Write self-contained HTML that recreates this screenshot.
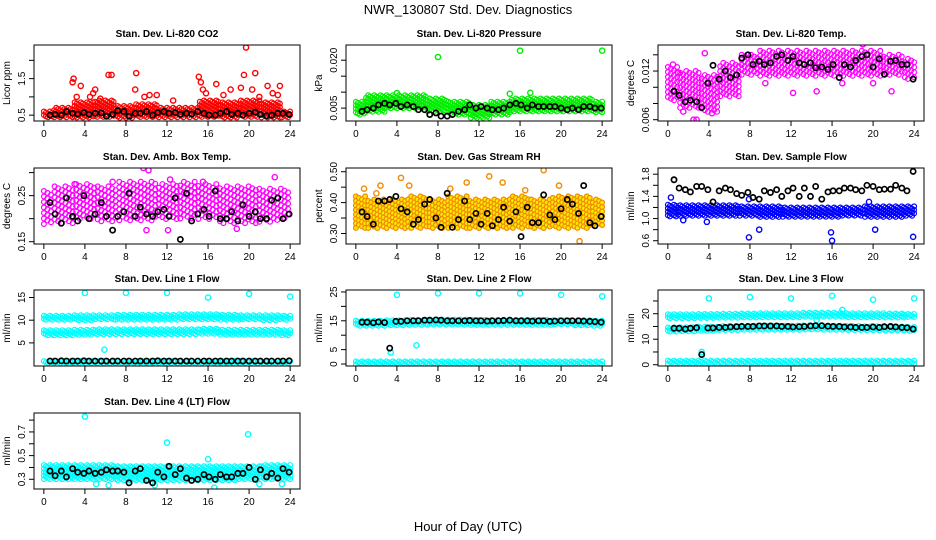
<!DOCTYPE html>
<html><head><meta charset="utf-8">
<style>
html,body{margin:0;padding:0;background:#fff;}
svg{display:block;font-family:"Liberation Sans",Arial,sans-serif;}
</style></head>
<body>
<svg id="chart" width="936" height="540" viewBox="0 0 936 540" xmlns="http://www.w3.org/2000/svg">
<rect width="936" height="540" fill="#fff"/>
<text x="468" y="14" text-anchor="middle" font-size="13">NWR_130807  Std. Dev. Diagnostics</text>
<text x="468" y="531" text-anchor="middle" font-size="13">Hour of Day (UTC)</text>
<g id="panels"></g>
</svg>
<script>
// shared x positions (hour of day) of black hourly-mean points
const hx = [0.6,1.1,1.7,2.2,2.8,3.3,3.9,4.4,5,5.6,6.1,6.7,7.2,7.8,8.3,8.9,9.4,10,10.6,11.1,11.7,12.2,12.8,13.3,13.9,14.4,15,15.6,16.1,16.7,17.2,17.8,18.3,18.9,19.4,20,20.6,21.1,21.7,22.2,22.8,23.3,23.9];
// band hours (each band value covers +/-1 hour)
const bandHours = [0,2,4,6,8,10,12,14,16,18,20,22,24];
const xTicks = [0,4,8,12,16,20,24];

// Panel 1 CO2
const co2Lo = [0.45,0.45,0.45,0.45,0.45,0.45,0.45,0.45,0.45,0.45,0.45,0.45,0.45];
const co2Hi = [0.6,0.7,0.85,0.9,0.75,0.8,0.7,0.7,0.9,0.85,0.9,0.85,0.6];
const co2OutX = [2.9,2.8,3.6,6.3,6.6,9,8.9,15.1,15.3,16.8,19.7,19.5,20.6,21.8,23,10.3,11,5,15.5,4.5,12.6,3.2,4.8,5.5,9.8,15.8,17.5,18.2,19.2,20.3,21,22.3,22.8];
const co2OutY = [1.5,1.4,1.3,1.6,1.6,1.65,1.2,1.55,1.4,1.35,2.35,1.6,1.65,1.3,1.3,1.05,1.05,1.2,1.2,1.0,0.9,1.0,1.1,0.95,1.0,1.1,1.05,1.2,1.25,1.2,1.0,1.1,1.05];
const co2Black = [0.5,0.52,0.5,0.6,0.55,0.53,0.57,0.52,0.55,0.56,0.47,0.52,0.62,0.6,0.47,0.55,0.55,0.6,0.5,0.57,0.6,0.55,0.57,0.52,0.55,0.53,0.6,0.55,0.5,0.5,0.55,0.6,0.52,0.55,0.5,0.55,0.58,0.52,0.48,0.5,0.55,0.55,0.52];
// Panel 2 pressure
const prLo = [0.003,0.004,0.005,0.005,0.004,0.003,0.002,0.003,0.004,0.004,0.004,0.004,0.004];
const prHi = [0.007,0.009,0.009,0.009,0.008,0.007,0.006,0.007,0.008,0.008,0.008,0.008,0.007];
const prOutX = [8,16,24,15,17,4];
const prOutY = [0.021,0.023,0.023,0.0095,0.0098,0.0097];
const prBlack = [0.004,0.0045,0.005,0.006,0.0065,0.006,0.0065,0.0055,0.006,0.0055,0.0045,0.0045,0.003,0.0035,0.0025,0.0025,0.003,0.004,0.0045,0.006,0.005,0.0055,0.005,0.0045,0.0045,0.005,0.006,0.0065,0.006,0.005,0.006,0.0055,0.0055,0.0055,0.0055,0.005,0.0045,0.005,0.0045,0.0055,0.0055,0.005,0.005];
// Panel 3 temp
const tpLo = [0.0085,0.0075,0.007,0.009,0.0115,0.0115,0.0115,0.0115,0.0115,0.0115,0.0115,0.0115,0.011];
const tpHi = [0.0125,0.012,0.0115,0.013,0.014,0.0145,0.0145,0.0145,0.0145,0.0145,0.0145,0.014,0.0135];
const tpOutX = [2.5,2.8,1.5,4.3,9.5,12.2,14.5,17,20,21.8,19,1,3.6,0.5];
const tpOutY = [0.006,0.006,0.007,0.0068,0.0105,0.0093,0.0095,0.0105,0.0105,0.0095,0.0153,0.0118,0.0142,0.0128];
const tpBlack = [0.0095,0.009,0.0082,0.0084,0.0082,0.0075,0.0105,0.0127,0.011,0.012,0.0112,0.0115,0.0136,0.014,0.0128,0.0132,0.0128,0.013,0.0138,0.014,0.0133,0.0138,0.013,0.0128,0.013,0.0124,0.0125,0.0122,0.0128,0.0112,0.0128,0.0125,0.0133,0.0138,0.014,0.0125,0.0135,0.0116,0.0132,0.0133,0.0128,0.0128,0.011];
// Panel 4 amb box temp
const abLo = [0.19,0.19,0.2,0.195,0.195,0.195,0.2,0.2,0.2,0.19,0.19,0.195,0.2];
const abHi = [0.26,0.27,0.275,0.27,0.28,0.28,0.275,0.28,0.275,0.27,0.27,0.265,0.265];
const abOutX = [9.7,10.2,12.3,6.7,10,12.1,22.5,3,15.5,18.8];
const abOutY = [0.31,0.305,0.285,0.28,0.175,0.175,0.29,0.275,0.28,0.178];
const abBlack = [0.235,0.21,0.19,0.245,0.205,0.195,0.25,0.2,0.21,0.235,0.205,0.175,0.205,0.215,0.255,0.205,0.225,0.21,0.205,0.215,0.22,0.205,0.245,0.155,0.255,0.195,0.21,0.22,0.205,0.26,0.2,0.2,0.215,0.195,0.23,0.205,0.215,0.2,0.2,0.24,0.245,0.2,0.21];
// Panel 5 RH
const rhLo = [0.32,0.32,0.32,0.32,0.32,0.32,0.32,0.32,0.32,0.32,0.32,0.32,0.33];
const rhHi = [0.42,0.41,0.41,0.42,0.41,0.42,0.41,0.41,0.42,0.41,0.42,0.42,0.41];
const rhOutX = [0.8,2.4,4.4,5.2,9.2,10.8,13,14.3,18.3,21.8,19.8,2,16.5];
const rhOutY = [0.445,0.455,0.48,0.455,0.445,0.465,0.485,0.465,0.505,0.275,0.455,0.43,0.44];
const rhBlack = [0.37,0.355,0.33,0.405,0.405,0.41,0.42,0.38,0.37,0.33,0.345,0.395,0.41,0.35,0.32,0.43,0.32,0.345,0.405,0.345,0.365,0.33,0.365,0.325,0.345,0.385,0.34,0.37,0.29,0.385,0.335,0.335,0.425,0.36,0.345,0.38,0.41,0.395,0.365,0.455,0.335,0.325,0.355];
// Panel 6 sample flow
const sfLo = [1.05,1.05,1.05,1.05,1.05,1.04,1.04,1.04,1.04,1.05,1.04,1.04,1.05];
const sfHi = [1.25,1.24,1.24,1.24,1.22,1.22,1.2,1.2,1.2,1.2,1.22,1.22,1.22];
const sfOutX = [7.9,8.9,16,15.9,20.2,23.9,1.5,3.8,0.3,7.9,19.6];
const sfOutY = [0.66,0.8,0.6,0.75,0.8,0.67,0.97,0.94,1.38,1.35,1.3];
const sfBlack = [1.7,1.55,1.52,1.48,1.58,1.58,1.52,1.3,1.5,1.55,1.52,1.45,1.42,1.47,1.38,1.35,1.5,1.47,1.52,1.4,1.5,1.55,1.4,1.55,1.4,1.58,1.35,1.48,1.5,1.5,1.55,1.55,1.52,1.5,1.6,1.58,1.52,1.53,1.53,1.6,1.55,1.5,1.85];
// Panel 7 line 1 flow
const l1aLo = [10.2,10.2,10.2,10.3,10.3,10.3,10.3,10.3,10.3,10.3,10.3,10.2,10.2];
const l1aHi = [11.0,11.0,11.1,11.1,11.2,11.2,11.2,11.3,11.3,11.2,11.1,11.1,11.0];
const l1bLo = [6.9,6.9,7.0,7.1,7.1,7.1,7.1,7.1,7.2,7.0,7.0,7.0,6.9];
const l1bHi = [7.8,7.8,7.9,8.0,8.0,8.0,8.0,8.0,8.1,7.9,7.9,7.9,7.8];
const l1cLo = [0.6,0.6,0.6,0.6,0.6,0.6,0.6,0.6,0.6,0.6,0.6,0.6,0.6];
const l1cHi = [1.0,1.0,1.0,1.0,1.0,1.0,1.0,1.0,1.0,1.0,1.0,1.0,1.0];
const l1OutX = [4,8,12,16,20,24,5.9];
const l1OutY = [16,16,16,15,15.8,15.2,3.5];
const l1Black = [1,1,1.05,1,1,1,1.05,1,1,1,1,1,1,1,1,1,1,1,1,1.05,1,1,1,1,1,1,1,1,1,1,1,1,1,1,1,1,1,1,1,1,1,1,1.05];
// Panel 8 line 2 flow
const l2aLo = [13.3,13.6,13.8,13.8,13.9,13.9,13.9,13.9,13.9,13.9,13.9,13.8,13.6];
const l2aHi = [15.0,15.0,15.2,15.3,15.4,15.4,15.3,15.3,15.3,15.3,15.2,15.2,15.0];
const l2cLo = [0,0,0,0,0,0,0,0,0,0,0,0,0];
const l2cHi = [0.9,0.9,0.9,0.9,0.9,0.9,0.9,0.9,0.9,0.9,0.9,0.9,0.9];
const l2OutX = [4,8,12,16,20,24,5.9,3.4];
const l2OutY = [24,24.5,24.5,24.5,24,23.5,6.5,4];
const l2Black = [14.5,14.5,14.3,14.6,14.4,5.5,14.8,14.8,15,15,15,15.2,15.2,15.3,15.2,15,15,15,15,15.1,15,15,14.9,15,15,15.1,15.2,15,15,15,14.9,15,15,14.8,14.9,15,15,15,15,14.9,14.8,14.7,14.5];
// Panel 9 line 3 flow
const l3aLo = [18.6,18.6,18.7,18.8,18.8,18.9,18.9,18.9,18.9,18.9,18.9,18.9,18.8];
const l3aHi = [19.8,19.8,19.9,20.0,20.1,20.2,20.2,20.4,20.4,20.2,20.2,20.1,19.9];
const l3bLo = [13.3,13.4,13.6,13.8,13.9,13.9,14.0,14.0,14.0,13.9,13.8,13.7,13.4];
const l3bHi = [14.6,14.7,14.9,15.2,15.3,15.3,15.3,15.4,15.3,15.2,15.1,15.0,14.8];
const l3cLo = [0.6,0.6,0.6,0.6,0.6,0.6,0.6,0.6,0.6,0.6,0.6,0.6,0.6];
const l3cHi = [1.6,1.6,1.6,1.6,1.6,1.6,1.6,1.6,1.6,1.6,1.6,1.6,1.6];
const l3OutX = [4,8,12,16,20,24,3.3,17,14.5];
const l3OutY = [26,26.5,26,27,25.5,26,5,21.5,17.5];
const l3Black = [14.3,14.3,14,14.3,14.5,4,14.4,14.4,14.6,14.6,14.8,14.9,15,15,15,15.2,15.2,15.2,15.2,15,15,14.8,14.9,15,15.2,15.3,15.3,15.1,15,15,14.8,14.8,14.6,14.6,14.6,14.8,14.6,14.9,15,14.8,14.6,14.5,14];
// Panel 10 line 4 flow
const l4Lo = [0.31,0.31,0.31,0.31,0.3,0.3,0.3,0.3,0.3,0.3,0.31,0.31,0.31];
const l4Hi = [0.42,0.42,0.42,0.42,0.41,0.41,0.41,0.41,0.41,0.41,0.41,0.42,0.42];
const l4OutX = [4,12,19.9,16,16.6,6.3,10.8,21,23.2,5.1];
const l4OutY = [0.83,0.61,0.68,0.47,0.23,0.25,0.25,0.26,0.26,0.26];
const l4Black = [0.37,0.33,0.37,0.32,0.39,0.36,0.35,0.37,0.35,0.36,0.38,0.37,0.37,0.36,0.27,0.37,0.39,0.29,0.27,0.36,0.32,0.41,0.34,0.39,0.31,0.29,0.30,0.34,0.32,0.30,0.34,0.32,0.32,0.35,0.35,0.40,0.30,0.38,0.32,0.35,0.31,0.39,0.36];

const panels = [
 {name:'co2',title:'Stan. Dev. Li-820 CO2',ylab:'Licor ppm',col:0,row:0,yb:0.34,yt:2.42,ticks:[0.5,1,1.5,2],labels:[0.5,1.5],fmt:1,color:'#ff0000',bands:[[co2Lo,co2Hi]],ox:co2OutX,oy:co2OutY,black:co2Black,dx:0.2,dy:3.5},
 {name:'pressure',title:'Stan. Dev. Li-820 Pressure',ylab:'kPa',col:1,row:0,yb:0.00097,yt:0.02476,ticks:[0.005,0.01,0.015,0.02],labels:[0.005,0.02],fmt:3,color:'#00ee00',bands:[[prLo,prHi]],ox:prOutX,oy:prOutY,black:prBlack,dx:0.2,dy:3.5},
 {name:'temp',title:'Stan. Dev. Li-820 Temp.',ylab:'degrees C',col:2,row:0,yb:0.00584,yt:0.01521,ticks:[0.006,0.008,0.01,0.012,0.014],labels:[0.006,0.012],fmt:3,color:'#ff00ff',bands:[[tpLo,tpHi]],ox:tpOutX,oy:tpOutY,black:tpBlack,dx:0.3,dy:5},
 {name:'amb-box-temp',title:'Stan. Dev. Amb. Box Temp.',ylab:'degrees C',col:0,row:1,yb:0.145,yt:0.31,ticks:[0.15,0.2,0.25,0.3],labels:[0.15,0.25],fmt:2,color:'#ff00ff',bands:[[abLo,abHi]],ox:abOutX,oy:abOutY,black:abBlack,dx:0.35,dy:5.5},
 {name:'gas-stream-rh',title:'Stan. Dev. Gas Stream RH',ylab:'percent',col:1,row:1,yb:0.266,yt:0.512,ticks:[0.3,0.35,0.4,0.45,0.5],labels:[0.3,0.4,0.5],fmt:2,color:'#f08a00',bands:[[rhLo,rhHi]],ox:rhOutX,oy:rhOutY,black:rhBlack,fill:'#ffe800',dx:0.3,dy:4.5},
 {name:'sample-flow',title:'Stan. Dev. Sample Flow',ylab:'ml/min',col:2,row:1,yb:0.541,yt:1.912,ticks:[0.6,0.8,1.0,1.2,1.4,1.6,1.8],labels:[0.6,1.0,1.4,1.8],fmt:1,color:'#0000ff',bands:[[sfLo,sfHi]],ox:sfOutX,oy:sfOutY,black:sfBlack,dx:0.2,dy:3.5},
 {name:'line1-flow',title:'Stan. Dev. Line 1 Flow',ylab:'ml/min',col:0,row:2,yb:-0.09,yt:16.65,ticks:[5,10,15],labels:[5,10,15],fmt:0,color:'#00ffff',bands:[[l1aLo,l1aHi],[l1bLo,l1bHi],[l1cLo,l1cHi]],ox:l1OutX,oy:l1OutY,black:l1Black,dx:0.2,dy:3},
 {name:'line2-flow',title:'Stan. Dev. Line 2 Flow',ylab:'ml/min',col:1,row:2,yb:-0.68,yt:25.68,ticks:[0,5,10,15,20,25],labels:[0,5,15,25],fmt:0,color:'#00ffff',bands:[[l2aLo,l2aHi],[l2cLo,l2cHi]],ox:l2OutX,oy:l2OutY,black:l2Black,dx:0.2,dy:3},
 {name:'line3-flow',title:'Stan. Dev. Line 3 Flow',ylab:'ml/min',col:2,row:2,yb:-0.5,yt:29.3,ticks:[0,5,10,15,20,25],labels:[0,10,20],fmt:0,color:'#00ffff',bands:[[l3aLo,l3aHi],[l3bLo,l3bHi],[l3cLo,l3cHi]],ox:l3OutX,oy:l3OutY,black:l3Black,dx:0.2,dy:3},
 {name:'line4-flow',title:'Stan. Dev. Line 4 (LT) Flow',ylab:'ml/min',col:0,row:3,yb:0.218,yt:0.86,ticks:[0.3,0.4,0.5,0.6,0.7,0.8],labels:[0.3,0.5,0.7],fmt:1,color:'#00ffff',bands:[[l4Lo,l4Hi]],ox:l4OutX,oy:l4OutY,black:l4Black,dx:0.2,dy:3.5}
];

const NS='http://www.w3.org/2000/svg';
const colLeft=[34,346,658], rowTop=[45,168,290,413], W=266, H=76;
function mk(tag,attrs,parent){const e=document.createElementNS(NS,tag);for(const k in attrs)e.setAttribute(k,attrs[k]);parent.appendChild(e);return e;}
const root=document.getElementById('panels');

panels.forEach(p=>{
  const L=colLeft[p.col], T=rowTop[p.row], B=T+H;
  const xs=t=>L+W*0.04/1.08+t*W/25.92;
  const ys=v=>T+(p.yt-v)/(p.yt-p.yb)*H;
  const g=mk('g',{},root);
  
  
  const clip=mk('clipPath',{id:'c-'+p.name},g);
  mk('rect',{x:L,y:T,width:W,height:H},clip);
  const pts=mk('g',{'clip-path':'url(#c-'+p.name+')'},g);
  
  
  const fillC=p.fill||'none';
  // dense bands
  p.bands.forEach(b=>{
    const lo=b[0], hi=b[1];
    let k=0;
    for(let t=0;t<=24.001;t+=p.dx){
      const i=Math.min(bandHours.length-1,Math.round(t/2));
      const y0=ys(lo[i]), y1=ys(hi[i]);
      const off=(k%3)*p.dy/3; k++;
      for(let y=y1+off;y<=y0+1;y+=p.dy){
        mk('circle',{cx:xs(t).toFixed(1),cy:y.toFixed(1),r:2.4,fill:fillC,stroke:p.color,'stroke-width':1.2},pts);
      }
    }
  });
  // outliers
  p.ox.forEach((x,i)=>{
    const c=mk('circle',{cx:xs(x),cy:ys(p.oy[i]),r:2.6,fill:'none',stroke:p.color,'stroke-width':1.4},pts);
    
    
  });
  // black hourly points
  const n=Math.min(hx.length,p.black.length);
  for(let i=0;i<n;i++){
    const c=mk('circle',{cx:xs(hx[i]),cy:ys(p.black[i]),r:2.6,fill:'none',stroke:'#000','stroke-width':1.7},pts);
    
    
  }
  // box
  const box=mk('rect',{x:L,y:T,width:W,height:H,fill:'none',stroke:'#000','stroke-width':1},g);
  
  
  // title
  const tt=mk('text',{x:L+W/2,y:T-8,'text-anchor':'middle','font-size':10,'font-weight':'bold'},g);
  tt.textContent=p.title;
  
  
  // x axis
  const xa=mk('g',{},g);
  
  
  mk('line',{x1:xs(0),x2:xs(24),y1:B,y2:B,stroke:'#000'},xa);
  xTicks.forEach(t=>{
    mk('line',{x1:xs(t),x2:xs(t),y1:B,y2:B+5,stroke:'#000'},xa);
    const l=mk('text',{x:xs(t),y:B+16,'text-anchor':'middle','font-size':10},xa);
    l.textContent=t;
  });
  // y axis
  const ya=mk('g',{},g);
  
  
  const yt0=ys(p.ticks[0]), yt1=ys(p.ticks[p.ticks.length-1]);
  mk('line',{x1:L,x2:L,y1:Math.min(yt0,B),y2:Math.max(yt1,T),stroke:'#000'},ya);
  p.ticks.forEach(v=>{
    mk('line',{x1:L-5,x2:L,y1:ys(v),y2:ys(v),stroke:'#000'},ya);
  });
  p.labels.forEach(v=>{
    const y=ys(v), x=L-9;
    const l=mk('text',{x:x,y:y,'text-anchor':'middle','font-size':10,transform:'rotate(-90 '+x+' '+y+')'},ya);
    l.textContent=v.toFixed(p.fmt);
  });
  const yx=L-24, yy=T+H/2;
  const yl=mk('text',{x:yx,y:yy,'text-anchor':'middle','font-size':10,transform:'rotate(-90 '+yx+' '+yy+')'},g);
  yl.textContent=p.ylab;
  
  
});
</script>
</body></html>
